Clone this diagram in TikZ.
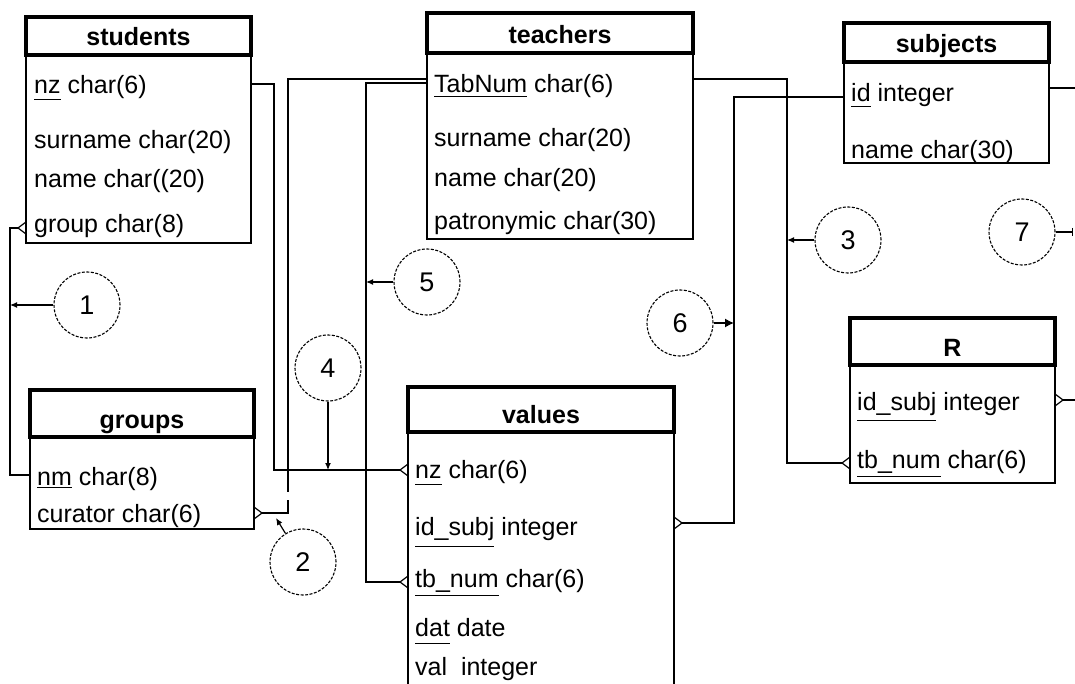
\documentclass[tikz,border=0pt]{standalone}
\usepackage{fontspec}
\setmainfont{Liberation Sans}
\usetikzlibrary{arrows.meta}
\newcommand\keyul[2][6pt]{\setbox0\hbox{#2}\rlap{\rule[-#1]{\wd0}{1.2pt}}\box0\relax}
\begin{document}
\begin{tikzpicture}[x=1pt,y=-1pt,
  ln/.style={line width=1.2pt},
  hdr/.style={line width=3.2pt},
  ttl/.style={font=\fontsize{25}{30}\selectfont\bfseries, anchor=base, inner sep=0},
  fld/.style={font=\fontsize{25}{30}\selectfont, anchor=base west, inner sep=0},
  rel/.style={circle, draw, line width=1.1pt, dash pattern=on 3pt off 1.5pt, minimum size=66pt, inner sep=0, font=\fontsize{27}{30}\selectfont},
  arr/.style={ln, -{Latex[length=7pt,width=6pt]}},
  bigarr/.style={ln, -{Latex[length=9pt,width=9pt]}},
  cfL/.pic={\draw[ln] (8,-6) -- (0,0) -- (8,6);},
  cfR/.pic={\draw[ln] (-8,-6) -- (0,0) -- (-8,6);}
]
\fill[white] (0,0) rectangle (1075,684);
\useasboundingbox (0,0) rectangle (1075,684);

% ---------- tables ----------
% students
\draw[ln] (26,55) rectangle (251,243);
\draw[hdr] (26,17) rectangle (251,55);
\node[ttl] (students) at (138.5,46) {students};
\node[fld] (stu-nz) at (34,94) {\keyul{nz} char(6)};
\node[fld] (stu-sn) at (34,149) {surname char(20)};
\node[fld] (stu-nm) at (34,188) {name char((20)};
\node[fld] (stu-gr) at (34,233) {group char(8)};

% teachers
\draw[ln] (427,53) rectangle (693,239);
\draw[hdr] (427,13) rectangle (693,53);
\node[ttl] (teachers) at (560,44) {teachers};
\node[fld] (tea-tn) at (434,93) {\keyul[4pt]{TabNum} char(6)};
\node[fld] (tea-sn) at (434,147) {surname char(20)};
\node[fld] (tea-nm) at (434,187) {name char(20)};
\node[fld] (tea-pn) at (434,230) {patronymic char(30)};

% subjects
\draw[ln] (844,62) rectangle (1049,163);
\draw[hdr] (844,23) rectangle (1049,62);
\node[ttl] (subjects) at (946.5,53) {subjects};
\node[fld] (sub-id) at (851,102) {\keyul[5pt]{id} integer};
\node[fld] (sub-nm) at (851,159) {name char(30)};

% groups
\draw[ln] (30,437) rectangle (254,529);
\draw[hdr] (30,390) rectangle (254,437);
\node[ttl] (groups) at (142,428) {groups};
\node[fld] (grp-nm) at (37,485) {\keyul[3pt]{nm} char(8)};
\node[fld] (grp-cu) at (37,522) {curator char(6)};

% values
\draw[ln] (408,432) rectangle (674,695);
\draw[hdr] (408,387) rectangle (674,432);
\node[ttl] (values) at (541,423) {values};
\node[fld] (val-nz) at (415,478) {\keyul[7pt]{nz} char(6)};
\node[fld] (val-id) at (415,535) {\keyul[12pt]{id\_subj} integer};
\node[fld] (val-tb) at (415,587) {\keyul[9pt]{tb\_num} char(6)};
\node[fld] (val-dt) at (415,636) {\keyul[8pt]{dat} date};
\node[fld] (val-vl) at (415,675) {val\ \ integer};

% R
\draw[ln] (850,365) rectangle (1055,483);
\draw[hdr] (850,318) rectangle (1055,365);
\node[ttl] (R) at (952.5,356) {R};
\node[fld] (r-id) at (857,410) {\keyul[11pt]{id\_subj} integer};
\node[fld] (r-tb) at (857,468) {\keyul[9pt]{tb\_num} char(6)};

% ---------- relationship circles ----------
\node[rel] (c1) at (87,305) {1};
\node[rel] (c2) at (303,562) {2};
\node[rel] (c3) at (848,240) {3};
\node[rel] (c4) at (328,368) {4};
\node[rel] (c5) at (427,282) {5};
\node[rel] (c6) at (680,323) {6};
\node[rel] (c7) at (1022,232) {7};

% ---------- attach points ----------
\coordinate (sgr) at (18,228);
\coordinate (gnm) at (30,475);
\coordinate (snz) at (251,84);
\coordinate (vnz) at (400,470);
\coordinate (tl1) at (427,79);
\coordinate (gcu) at (262,513);
\coordinate (tl2) at (427,83);
\coordinate (vtb) at (400,582);
\coordinate (tr)  at (693,79);
\coordinate (rtb) at (842,463);
\coordinate (sid) at (844,97);
\coordinate (vid) at (682,523);
\coordinate (sr)  at (1049,88);
\coordinate (e1)  at (1075,88);
\coordinate (rid) at (1063,400);
\coordinate (e2)  at (1075,400);
\coordinate (e3)  at (1073,232);
\coordinate (j1) at (10,305);
\coordinate (j2) at (276,518);
\coordinate (j3) at (787,240);
\coordinate (j4) at (328,470);
\coordinate (j5) at (366,282);
\coordinate (j6) at (734,323);
\coordinate (gapT) at (288,492);
\coordinate (gapB) at (288,500);

% crow's feet
\pic at (sgr) {cfL};
\pic at (vnz) {cfL};
\pic at (vtb) {cfL};
\pic at (rtb) {cfL};
\pic at (gcu) {cfR};
\pic at (vid) {cfR};
\pic at (rid) {cfR};

% ---------- connectors ----------
\draw[ln] (sgr) -- ++(-8,0) |- (gnm);
\draw[ln] (snz) -- ++(23,0) |- (vnz);
\draw[ln] (tl1) -| (gapT);
\draw[ln] (gapB) |- (gcu);
\draw[ln] (tl2) -- ++(-61,0) |- (vtb);
\draw[ln] (tr) -- ++(94,0) |- (rtb);
\draw[ln] (sid) -- ++(-110,0) |- (vid);
\draw[ln] (sr) -- (e1);
\draw[ln] (rid) -- (e2);

% circle links
\draw[arr] (c1) -- (j1);
\draw[arr] (c2) -- (j2);
\draw[arr] (c3) -- (j3);
\draw[arr] (c4) -- (j4);
\draw[arr] (c5) -- (j5);
\draw[bigarr] (c6) -- (j6);
\draw[ln, -{Bar[width=8pt]}] (c7) -- (e3);
\end{tikzpicture}
\end{document}
